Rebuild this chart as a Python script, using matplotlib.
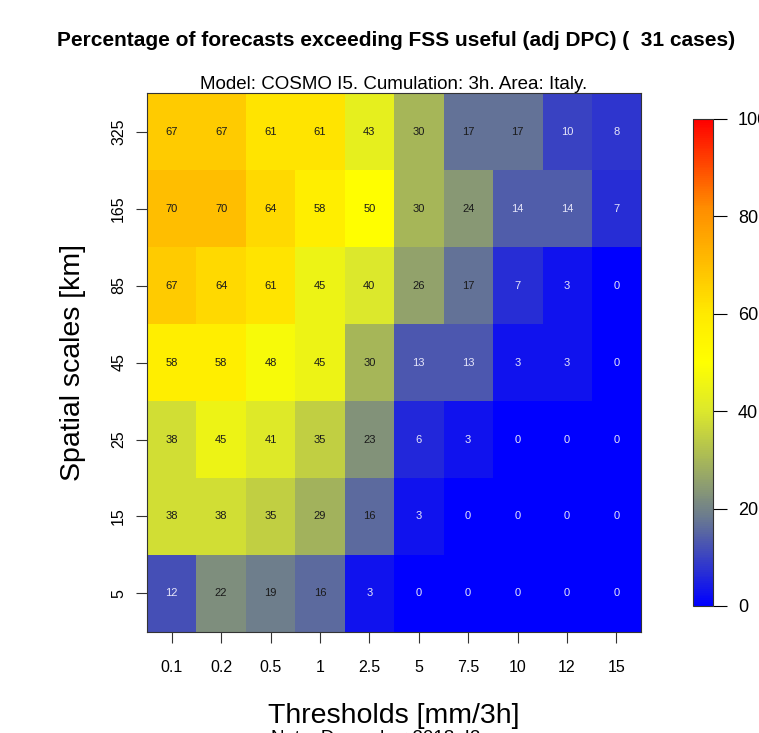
import numpy as np
import matplotlib.pyplot as plt
from matplotlib.colors import LinearSegmentedColormap

plt.rcParams['font.family'] = ['Liberation Sans', 'DejaVu Sans']

# thresholds (columns) and spatial scales (rows, bottom to top)
thresholds = ['0.1', '0.2', '0.5', '1', '2.5', '5', '7.5', '10', '12', '15']
scales = ['5', '15', '25', '45', '85', '165', '325']

row_5 = [12, 22, 19, 16, 3, 0, 0, 0, 0, 0]
row_15 = [38, 38, 35, 29, 16, 3, 0, 0, 0, 0]
row_25 = [38, 45, 41, 35, 23, 6, 3, 0, 0, 0]
row_45 = [58, 58, 48, 45, 30, 13, 13, 3, 3, 0]
row_85 = [67, 64, 61, 45, 40, 26, 17, 7, 3, 0]
row_165 = [70, 70, 64, 58, 50, 30, 24, 14, 14, 7]
row_325 = [67, 67, 61, 61, 43, 30, 17, 17, 10, 8]

z = np.array([row_5, row_15, row_25, row_45, row_85, row_165, row_325])

cmap = LinearSegmentedColormap.from_list(
    'bgyr', [(0.0, '#0000ff'), (0.18, '#6a7a90'), (0.3, '#a8b858'),
             (0.4, '#dce82c'), (0.5, '#ffff00'), (0.6, '#ffea00'),
             (0.82, '#ff8c00'), (1.0, '#ff0000')])

fig = plt.figure(figsize=(7.59, 7.33), dpi=100)
ax = fig.add_axes([0.1937, 0.1378, 0.6509, 0.7353])
im = ax.imshow(z, cmap=cmap, vmin=0, vmax=100, origin='lower',
               aspect='auto', interpolation='nearest')

for i in range(z.shape[0]):
    for j in range(z.shape[1]):
        v = z[i, j]
        col = '#e6e6fa' if v < 15 else '#1a1a1a'
        ax.text(j, i, str(v), ha='center', va='center', fontsize=8, color=col)

ax.set_xticks(range(len(thresholds)))
ax.set_xticklabels(thresholds, fontsize=11.5)
ax.set_yticks(range(len(scales)))
ax.set_yticklabels(scales, fontsize=11.5, rotation=90, va='center')
ax.tick_params(axis='x', length=8, pad=12, color='#333333')
ax.tick_params(axis='y', length=8, pad=7, color='#333333')
for s in ax.spines.values():
    s.set_color('#333333')

ax.set_xlabel('Thresholds [mm/3h]', fontsize=20.5, labelpad=20)
ax.set_ylabel('Spatial scales [km]', fontsize=20.5, labelpad=18)
ax.set_title('Model: COSMO I5. Cumulation: 3h. Area: Italy.', fontsize=13.5, pad=2)

fig.text(0.522, 0.945, 'Percentage of forecasts exceeding FSS useful (adj DPC) (  31 cases)',
         ha='center', va='center', fontsize=15, fontweight='bold')
fig.text(0.495, -0.007, 'Note: December 2018, I2', ha='center', va='center', fontsize=13.5)

cax = fig.add_axes([0.913, 0.1733, 0.0264, 0.6644])
cb = fig.colorbar(im, cax=cax, ticks=[0, 20, 40, 60, 80, 100])
cb.ax.tick_params(length=10, labelsize=13, pad=8)
cb.outline.set_edgecolor('#333333')

fig.savefig('out.png', dpi=100)
